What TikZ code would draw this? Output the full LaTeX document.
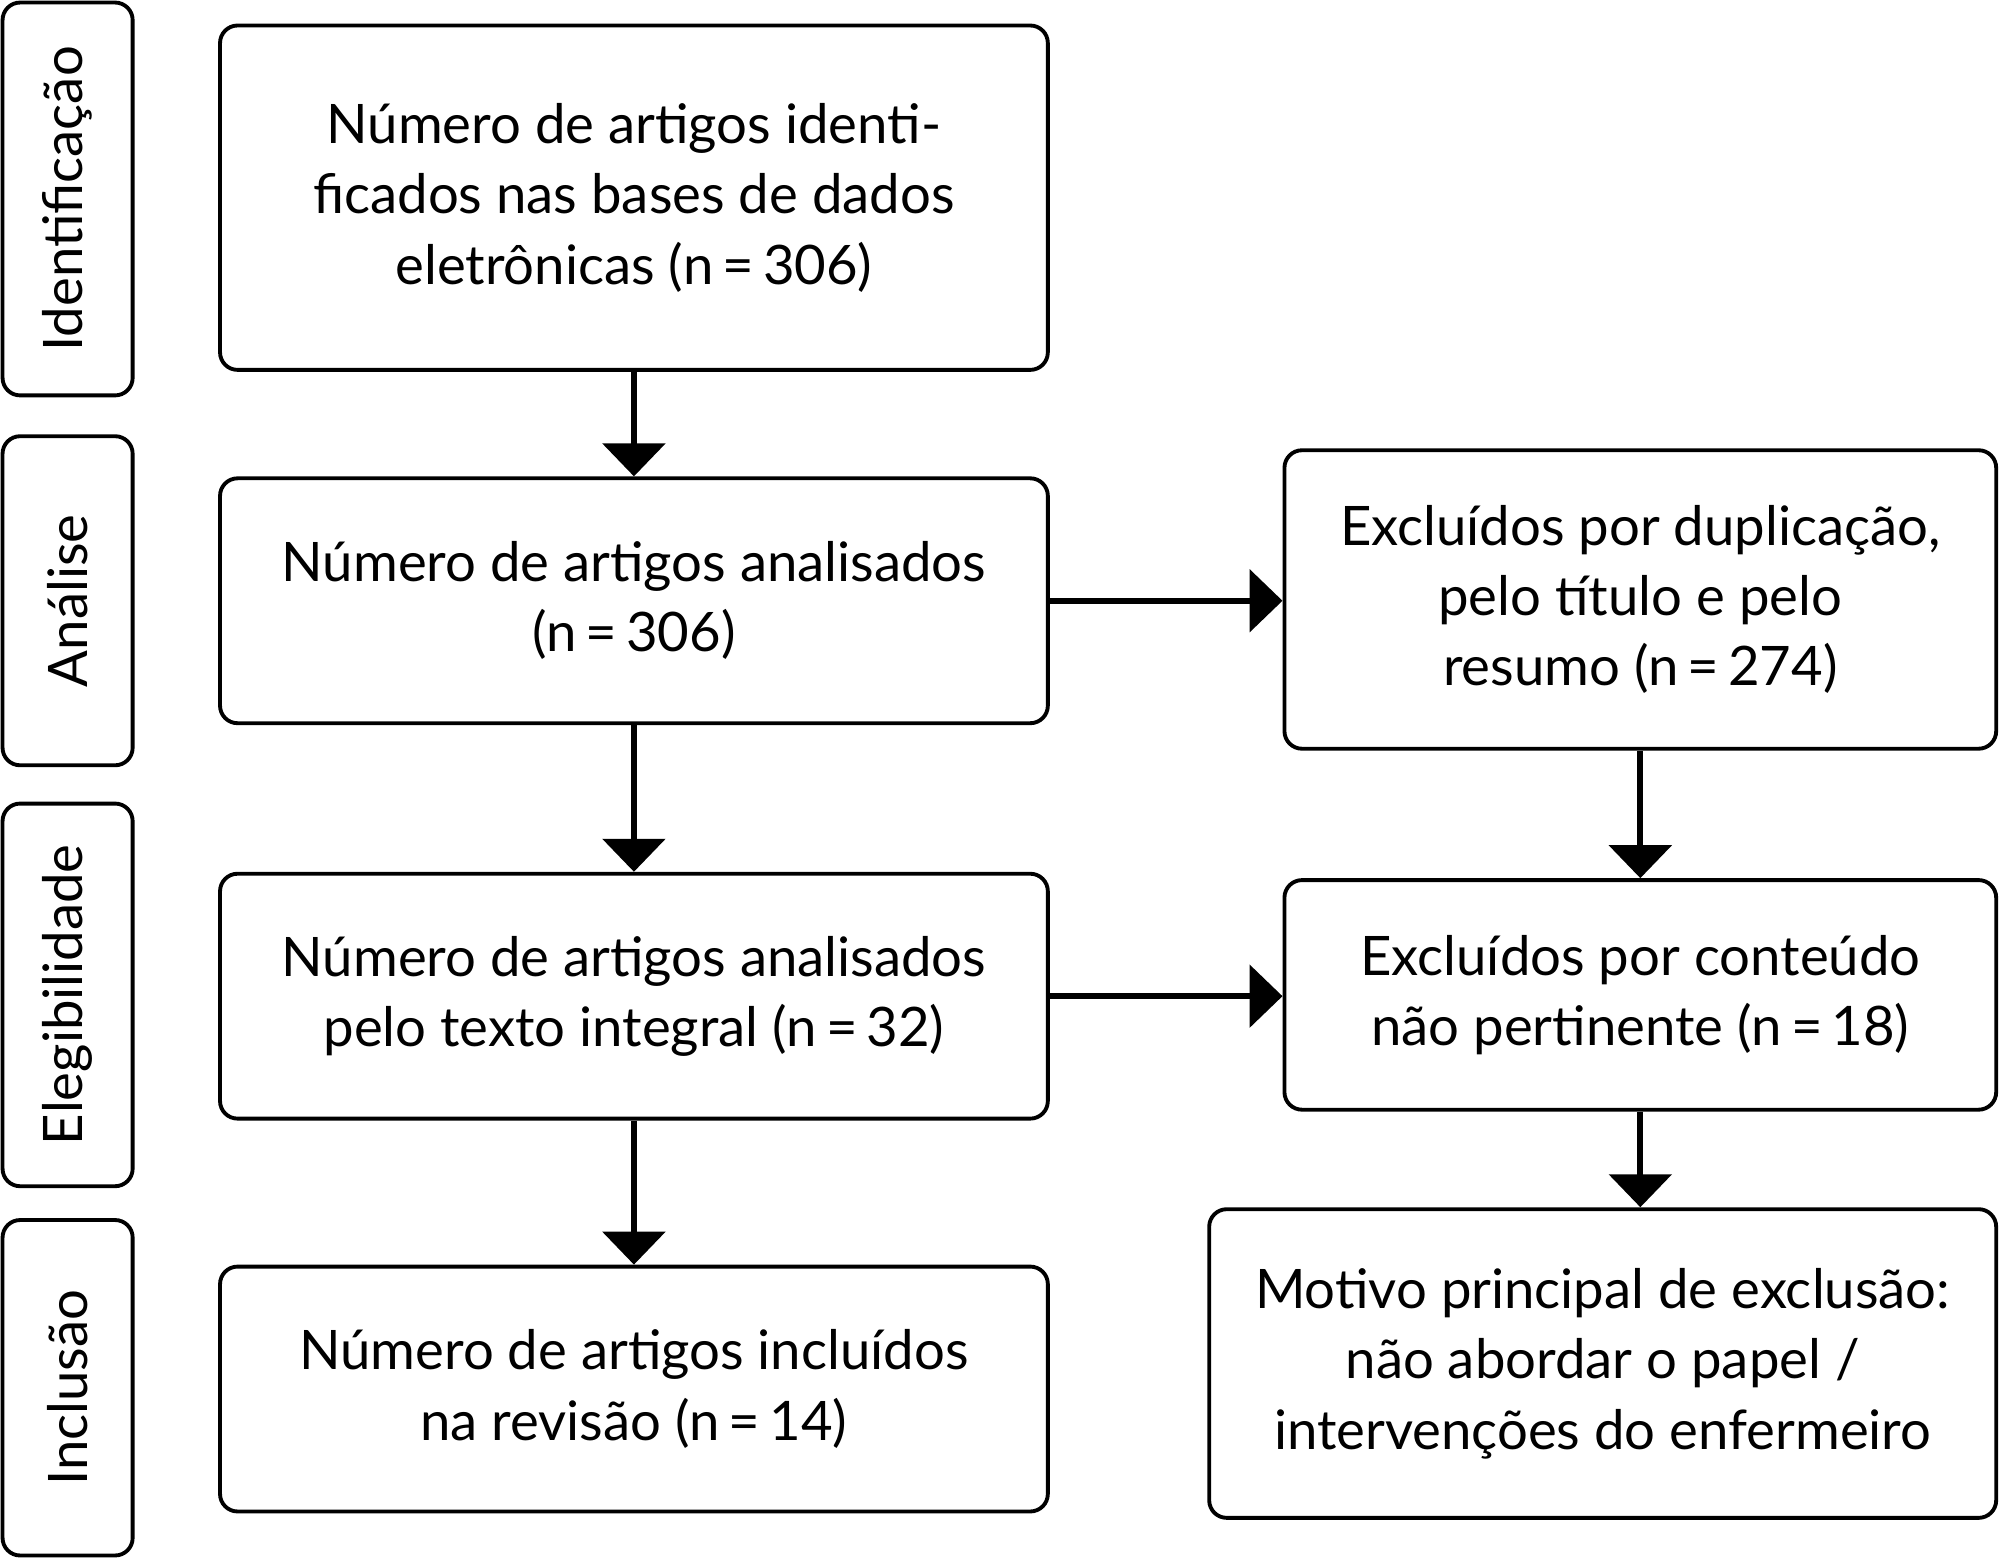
\documentclass[tikz,border=0pt]{standalone}
\usepackage{fontspec}
\setmainfont{Lato}
\usetikzlibrary{arrows.meta}
\tikzset{
  stepbox/.style={draw, line width=1.1pt, rounded corners=5pt, align=center, font=\fontsize{15.5}{20}\selectfont, inner sep=0pt},
  phasebox/.style={draw, line width=1.1pt, rounded corners=5pt, align=center, font=\fontsize{15.5}{20}\selectfont, inner sep=0pt},
  flow/.style={line width=1.8pt, -{Triangle[length=0.33cm, width=0.62cm]}}
}
\begin{document}
\begin{tikzpicture}[x=0.012755cm, y=-0.012755cm]
  \useasboundingbox (0,0) rectangle (1568,1223);

  % Phases
  \node[phasebox, minimum width=102*0.012755cm, minimum height=308*0.012755cm] (ident) at (53,156) {};
  \node[rotate=90, font=\fontsize{15.5}{20}\selectfont] at (ident) {Identificação};
  \node[phasebox, minimum width=102*0.012755cm, minimum height=258*0.012755cm] (anal) at (53,471) {};
  \node[rotate=90, font=\fontsize{15.5}{20}\selectfont] at (anal) {Análise};
  \node[phasebox, minimum width=102*0.012755cm, minimum height=300*0.012755cm] (eleg) at (53,780) {};
  \node[rotate=90, font=\fontsize{15.5}{20}\selectfont] at (eleg) {Elegibilidade};
  \node[phasebox, minimum width=102*0.012755cm, minimum height=263*0.012755cm] (incl) at (53,1088) {};
  \node[rotate=90, font=\fontsize{15.5}{20}\selectfont] at (incl) {Inclusão};

  % Main column
  \node[stepbox, minimum width=649*0.012755cm, minimum height=270*0.012755cm] (ident1) at (497,155)
    {Número de artigos identi-\\ficados nas bases de dados\\eletrônicas (n\,=\,306)};
  \node[stepbox, minimum width=649*0.012755cm, minimum height=192*0.012755cm] (anal1) at (497,471)
    {Número de artigos analisados\\(n\,=\,306)};
  \node[stepbox, minimum width=649*0.012755cm, minimum height=192*0.012755cm] (eleg1) at (497,781)
    {Número de artigos analisados\\pelo texto integral (n\,=\,32)};
  \node[stepbox, minimum width=649*0.012755cm, minimum height=192*0.012755cm] (incl1) at (497,1089)
    {Número de artigos incluídos\\na revisão (n\,=\,14)};

  % Exclusions
  \node[stepbox, minimum width=558*0.012755cm, minimum height=234*0.012755cm] (excl1) at (1286,470)
    {Excluídos por duplicação,\\pelo título e pelo\\resumo (n\,=\,274)};
  \node[stepbox, minimum width=558*0.012755cm, minimum height=180*0.012755cm] (excl2) at (1286,780)
    {Excluídos por conteúdo\\não pertinente (n\,=\,18)};
  \node[stepbox, minimum width=617*0.012755cm, minimum height=242*0.012755cm] (motivo) at (1256.5,1069)
    {Motivo principal de exclusão:\\não abordar o papel /\\intervenções do enfermeiro};

  % Arrows
  \draw[flow] (ident1) -- (anal1);
  \draw[flow] (anal1) -- (eleg1);
  \draw[flow] (eleg1) -- (incl1);
  \draw[flow] (anal1.east) -- (anal1.east -| excl1.west);
  \draw[flow] (eleg1.east) -- (eleg1.east -| excl2.west);
  \draw[flow] (excl1) -- (excl2);
  \draw[flow] (excl2.south) -- (excl2.south |- motivo.north);
\end{tikzpicture}
\end{document}
